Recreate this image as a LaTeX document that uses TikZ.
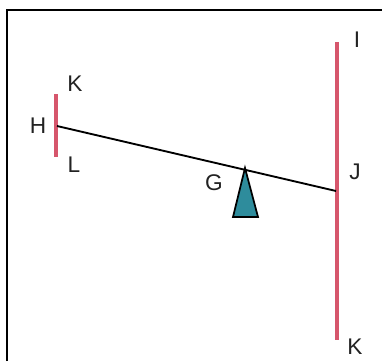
\documentclass[tikz,border=0pt]{standalone}
\usepackage{fontspec}
\setmainfont{Liberation Sans}
\definecolor{barred}{HTML}{D6566C}
\definecolor{pivotteal}{HTML}{2E8C9C}
\definecolor{lbltext}{HTML}{222222}
\tikzset{
  lbl/.style={font=\fontsize{17}{19}\selectfont, text=lbltext},
  bar/.style={barred, line width=2.4pt},
}
\begin{document}
\begin{tikzpicture}[x=0.75pt, y=-0.75pt]
  \useasboundingbox (0,0) rectangle (382,361);
  \draw[line width=2pt] (7,361) -- (7,10) -- (382,10);
  % bars
  \coordinate (Htop) at (56,94);
  \coordinate (Hbot) at (56,157);
  \coordinate (Itop) at (337,42);
  \coordinate (Kbot) at (337,340);
  \draw[bar] (Htop) -- (Hbot);
  \draw[bar] (Itop) -- (Kbot);
  % lever
  \coordinate (H) at (57,126);
  \coordinate (J) at (336,191);
  \draw[line width=1.4pt] (H) -- (J);
  % pivot
  \draw[fill=pivotteal, line width=1.3pt, line join=miter] (245,168) -- (258,217) -- (233,217) -- cycle;
  \node[lbl] (lH) at (38,126) {H};
  \node[lbl] (lK) at (75,84) {K};
  \node[lbl] (lL) at (74,165) {L};
  \node[lbl] (lG) at (214,183) {G};
  \node[lbl] (lI) at (357,40) {I};
  \node[lbl] (lJ) at (355,172) {J};
  \node[lbl] (lK2) at (355,347) {K};
\end{tikzpicture}
\end{document}
